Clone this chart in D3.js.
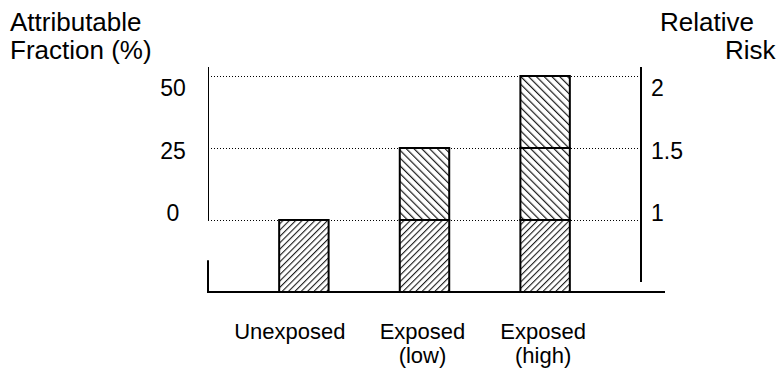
<!DOCTYPE html>
<html>
<head>
<meta charset="utf-8">
<script src="https://cdn.jsdelivr.net/npm/d3@7"></script>
<style>
  body { margin: 0; background: #fff; }
  text { font-family: "Liberation Sans", Arial, sans-serif; fill: #000; }
</style>
</head>
<body>
<div id="chart"></div>
<script>
// chart values
const categories = ["Unexposed", "Exposed (low)", "Exposed (high)"];
const categoryLines = [["Unexposed"], ["Exposed", "(low)"], ["Exposed", "(high)"]];
const relativeRisk = [1, 1.5, 2];
const afTicks = [0, 25, 50];
const rrTicks = [1, 1.5, 2];
const rrBase = 0.5; // bottom of the plot, in relative risk units

const width = 784, height = 374;

const svg = d3.select("#chart").append("svg")
  .attr("width", width)
  .attr("height", height);

// hatch patterns: "/" for the baseline risk, "\" for the excess
const defs = svg.append("defs");
defs.append("pattern")
  .attr("id", "hatchUp")
  .attr("patternUnits", "userSpaceOnUse")
  .attr("width", 4.5).attr("height", 4.5)
  .attr("patternTransform", "rotate(45)")
  .append("line")
  .attr("x1", 0).attr("y1", 0).attr("x2", 0).attr("y2", 4.5)
  .attr("stroke", "#1a1a1a").attr("stroke-width", 2.2);

defs.append("pattern")
  .attr("id", "hatchDown")
  .attr("patternUnits", "userSpaceOnUse")
  .attr("width", 5.5).attr("height", 5.5)
  .attr("patternTransform", "rotate(-45)")
  .append("line")
  .attr("x1", 0).attr("y1", 0).attr("x2", 0).attr("y2", 5.5)
  .attr("stroke", "#1a1a1a").attr("stroke-width", 2.4);

const x = d3.scaleBand()
  .domain(categories)
  .range([208, 641])
  .padding(0.59);

const y = d3.scaleLinear()
  .domain([rrBase, 2])
  .range([292, 76]);

// tick labels sit a little off their gridlines in the original
const afLabel = d3.scaleLinear().domain([0, 50]).range([213, 88]);
const rrLabel = d3.scaleLinear().domain([1, 2]).range([213, 88]);

// dotted gridlines
svg.append("g")
  .selectAll("line")
  .data(rrTicks)
  .join("line")
  .attr("x1", x.range()[0]).attr("x2", x.range()[1])
  .attr("y1", d => Math.round(y(d)) + 0.5).attr("y2", d => Math.round(y(d)) + 0.5)
  .attr("stroke", "#000")
  .attr("stroke-width", 1)
  .attr("stroke-dasharray", "1,2");

// bar segments
const segments = [];
categories.forEach((c, i) => {
  segments.push({ cat: c, lo: rrBase, hi: 1, fill: "url(#hatchUp)" });
  for (let r = 1; r < relativeRisk[i]; r += 0.5) {
    segments.push({ cat: c, lo: r, hi: Math.min(r + 0.5, relativeRisk[i]), fill: "url(#hatchDown)" });
  }
});

svg.append("g")
  .selectAll("rect")
  .data(segments)
  .join("rect")
  .attr("x", d => x(d.cat))
  .attr("width", x.bandwidth())
  .attr("y", d => y(d.hi))
  .attr("height", d => y(d.lo) - y(d.hi))
  .attr("fill", d => d.fill)
  .attr("stroke", "#000")
  .attr("stroke-width", 2);

// axes lines
const left = x.range()[0], right = x.range()[1];
svg.append("line") // left axis, thin upper part
  .attr("x1", left + 0.5).attr("x2", left + 0.5)
  .attr("y1", y(2) - 9).attr("y2", y(1))
  .attr("stroke", "#000").attr("stroke-width", 1);
svg.append("line") // left axis, thick stub at the bottom
  .attr("x1", left).attr("x2", left)
  .attr("y1", y(0.72)).attr("y2", y(rrBase) + 1)
  .attr("stroke", "#000").attr("stroke-width", 2);
svg.append("line") // right axis
  .attr("x1", right).attr("x2", right)
  .attr("y1", y(2) - 9).attr("y2", y(0.57))
  .attr("stroke", "#000").attr("stroke-width", 2);
svg.append("line") // baseline
  .attr("x1", left).attr("x2", right + 24)
  .attr("y1", y(rrBase)).attr("y2", y(rrBase))
  .attr("stroke", "#000").attr("stroke-width", 2);

// left tick labels (attributable fraction)
svg.append("g")
  .selectAll("text")
  .data(afTicks)
  .join("text")
  .attr("x", 173)
  .attr("y", d => afLabel(d))
  .attr("dy", "0.35em")
  .attr("text-anchor", "middle")
  .style("font-size", "23px")
  .text(d => d);

// right tick labels (relative risk)
svg.append("g")
  .selectAll("text")
  .data(rrTicks)
  .join("text")
  .attr("x", 651)
  .attr("y", d => rrLabel(d))
  .attr("dy", "0.35em")
  .style("font-size", "23px")
  .text(d => d);

// category labels
const cat = svg.append("g")
  .selectAll("text")
  .data(categories)
  .join("text")
  .attr("x", (d, i) => x(d) + x.bandwidth() / 2 - (categoryLines[i].length === 1 ? 14 : 2))
  .attr("y", 339)
  .attr("text-anchor", "middle")
  .style("font-size", "22px");
cat.selectAll("tspan")
  .data((d, i) => categoryLines[i])
  .join("tspan")
  .attr("x", function () { return this.parentNode.getAttribute("x"); })
  .attr("dy", (d, i) => i === 0 ? 0 : 24)
  .text(d => d);

// axis titles
const titles = svg.append("g").style("font-size", "26px");
titles.append("text").attr("x", 10).attr("y", 31).text("Attributable");
titles.append("text").attr("x", 10).attr("y", 59).text("Fraction (%)");
titles.append("text").attr("x", 660).attr("y", 31).text("Relative");
titles.append("text").attr("x", 725).attr("y", 59).text("Risk");
</script>
</body>
</html>
